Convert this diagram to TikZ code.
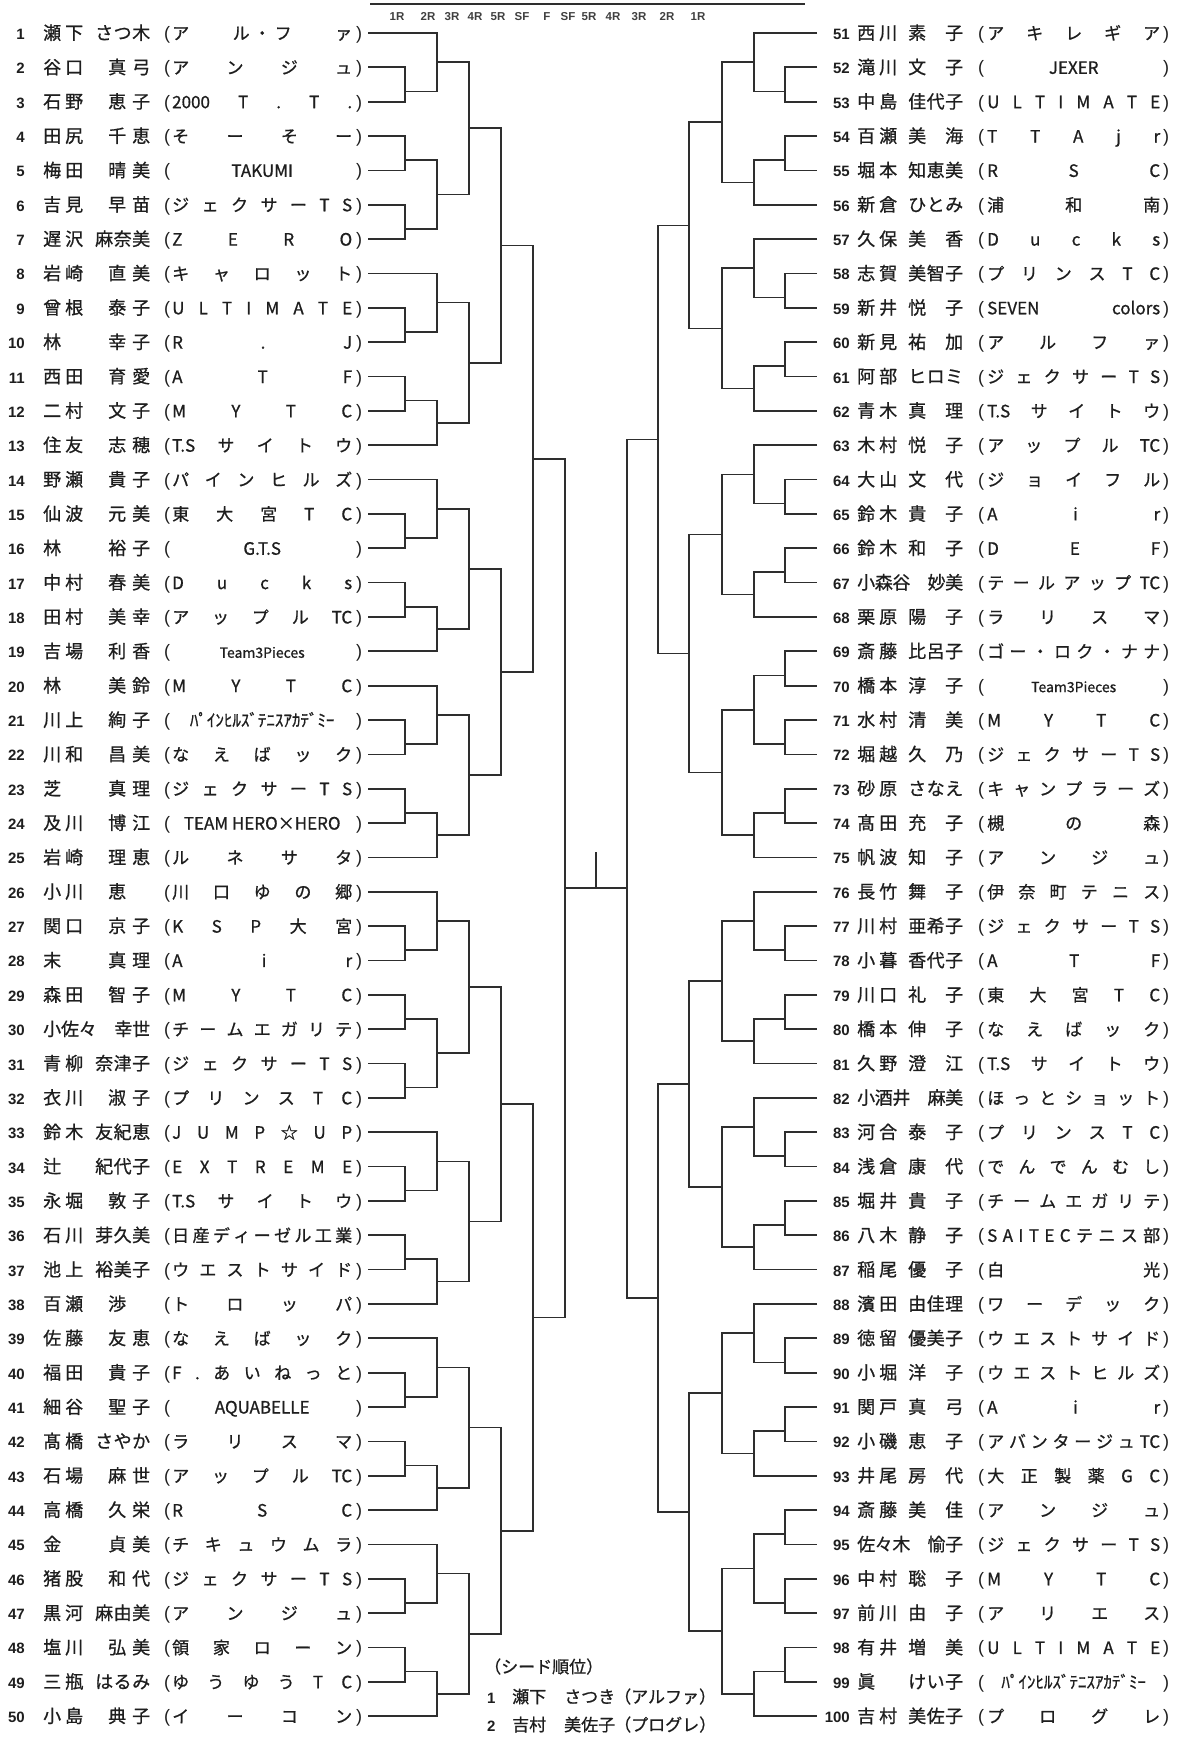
\documentclass[tikz,border=0pt]{standalone}
\usepackage{fontspec}
\setmainfont{Liberation Sans}
\newfontfamily\jp[FakeBold=0.8]{Noto Sans CJK JP}
\usetikzlibrary{calc}
\definecolor{ink}{HTML}{1E1E1E}
\definecolor{ln}{HTML}{2E2E2E}
\ExplSyntaxOn
\seq_new:N \l__rk_seq
\NewDocumentCommand \SPR { m m }
 {
  \seq_set_split:Nnn \l__rk_seq { | } { #2 }
  \makebox [ #1 ] [ s ] { \seq_use:Nn \l__rk_seq { \hspace { 0pt~plus~1fill~minus~1fill } } }
 }
\NewDocumentCommand \GivenL { m }
 {
  \seq_set_split:Nnn \l__rk_seq { | } { #1 }
  \int_compare:nNnTF { \seq_count:N \l__rk_seq } > { 2 }
   { \makebox [ 55pt ] [ s ] { \seq_use:Nn \l__rk_seq { \hspace { 0pt~plus~1fill~minus~1fill } } } }
   { \hspace*{13pt} \makebox [ 42pt ] [ s ] { \seq_use:Nn \l__rk_seq { \hspace { 0pt~plus~1fill~minus~1fill } } } }
 }
\ExplSyntaxOff
\newcommand\NM[2]{\makebox[52pt][l]{\SPR{40pt}{#1}}\GivenL{#2}}
\newcommand\NMR[2]{\makebox[51pt][l]{\SPR{40pt}{#1}}\SPR{55pt}{#2}}
\newcommand\TS[1]{\SPR{\tw}{#1}}
\newcommand\TC[1]{\makebox[\tw][c]{#1}}
\tikzset{
  br/.style={draw=ln, line width=1.7pt, line join=miter},
  num/.style={font=\fontsize{15}{15}\selectfont\bfseries, text=ink, inner sep=0pt, anchor=base east},
  tx/.style={font=\jp\fontsize{18}{18}\selectfont, text=ink, inner sep=0pt, anchor=base west},
  tmx/.style={font=\jp\fontsize{17}{17}\selectfont, text=ink, inner sep=0pt, anchor=base west},
  par/.style={font=\fontsize{18}{18}\selectfont, text=ink, inner sep=0pt, anchor=base},
  hd/.style={font=\fontsize{11.5}{12}\selectfont\bfseries, text=ink!85, inner sep=0pt, anchor=base},
  lg/.style={font=\jp\fontsize{17}{17}\selectfont, text=ink, inner sep=0pt, anchor=base west},
}
% left row
\newcommand\LR[3]{%
  \pgfmathsetmacro\yy{33+(#1-1)*34.35}%
  \pgfmathsetmacro\yb{\yy+6.5}%
  \def\tw{180pt}%
  \node[num] (n#1) at (25,\yb) {#1};
  \node[tx] (nm#1) at (43,\yb) {#2};
  \node[par] (lp#1) at (167,\yb) {(};
  \node[tmx] (tm#1) at (172,\yb) {#3};
  \node[par] (rp#1) at (359,\yb) {)};
  \coordinate (p#1) at (368,\yy);
}
% right row
\newcommand\RR[3]{%
  \pgfmathsetmacro\yy{33+(#1-51)*34.35}%
  \pgfmathsetmacro\yb{\yy+6.5}%
  \def\tw{173pt}%
  \node[num] (n#1) at (850,\yb) {#1};
  \node[tx] (nm#1) at (857,\yb) {#2};
  \node[par] (lp#1) at (981,\yb) {(};
  \node[tmx] (tm#1) at (987,\yb) {#3};
  \node[par] (rp#1) at (1166,\yb) {)};
  \coordinate (p#1) at (817,\yy);
}
% one match: round x coord, input A, input B, output name, fraction
\newcommand\M[5]{%
  \draw[br] (#2) -- (#2 -| #1) -- (#3 -| #1) -- (#3);
  \coordinate (#4) at ($(#2 -| #1)!#5!(#3 -| #1)$);
}
% (a,(b,c)) vs ((d,e),f)
\newcommand\GA[8]{%
  \M{#11}{p#4}{p#5}{#2x1}{.7}
  \M{#12}{p#3}{#2x1}{#2x2}{.5}
  \M{#11}{p#6}{p#7}{#2x3}{.7}
  \M{#12}{#2x3}{p#8}{#2x4}{.5}
  \M{#13}{#2x2}{#2x4}{#2}{.5}}
% (a,(b,c)) vs ((d,e),(f,g))
\newcommand\GB[9]{%
  \M{#11}{p#4}{p#5}{#2x1}{.7}
  \M{#12}{p#3}{#2x1}{#2x2}{.5}
  \M{#11}{p#6}{p#7}{#2x3}{.7}
  \M{#11}{p#8}{p#9}{#2x4}{.7}
  \M{#12}{#2x3}{#2x4}{#2x5}{.5}
  \M{#13}{#2x2}{#2x5}{#2}{.5}}
% ((a,b),(c,d)) vs ((e,f),g)
\newcommand\GC[9]{%
  \M{#11}{p#3}{p#4}{#2x1}{.7}
  \M{#11}{p#5}{p#6}{#2x2}{.7}
  \M{#12}{#2x1}{#2x2}{#2x3}{.5}
  \M{#11}{p#7}{p#8}{#2x4}{.7}
  \M{#12}{#2x4}{p#9}{#2x5}{.5}
  \M{#13}{#2x3}{#2x5}{#2}{.5}}
\begin{document}
\begin{tikzpicture}[x=1pt,y=-1pt]
\fill[white] (0,0) rectangle (1181,1742);
\useasboundingbox (0,0) rectangle (1181,1742);
\foreach \n/\v in {0/368,1/405,2/437,3/469,4/501,5/533,6/565} \coordinate (L\n) at (\v,0);
\foreach \n/\v in {0/817,1/785,2/754,3/722,4/689,5/658,6/627} \coordinate (R\n) at (\v,0);

% header
\draw[draw=ln, line width=1.8pt] (370,4) -- (805,4);
\foreach \t/\x [count=\k] in {1R/397,2R/428,3R/452,4R/475,5R/498,SF/522,F/547,SF/568,5R/589,4R/613,3R/639,2R/667,1R/698}
  \node[hd] (hd\k) at (\x,21) {\t};

% left entries
\LR{1}{\NM{瀬|下}{さ|つ|木}}{\TS{ア|ル\hspace{4pt}・\hspace{4pt}フ|ァ}}
\LR{2}{\NM{谷|口}{真|弓}}{\TS{ア|ン|ジ|ュ}}
\LR{3}{\NM{石|野}{恵|子}}{\TS{2000|T|.|T|.}}
\LR{4}{\NM{田|尻}{千|恵}}{\TS{そ|ー|そ|ー}}
\LR{5}{\NM{梅|田}{晴|美}}{\TC{TAKUMI}}
\LR{6}{\NM{吉|見}{早|苗}}{\TS{ジ|ェ|ク|サ|ー|T|S}}
\LR{7}{\NM{遅|沢}{麻|奈|美}}{\TS{Z|E|R|O}}
\LR{8}{\NM{岩|崎}{直|美}}{\TS{キ|ャ|ロ|ッ|ト}}
\LR{9}{\NM{曾|根}{泰|子}}{\TS{U|L|T|I|M|A|T|E}}
\LR{10}{\NM{林}{幸|子}}{\TS{R|.|J}}
\LR{11}{\NM{西|田}{育|愛}}{\TS{A|T|F}}
\LR{12}{\NM{二|村}{文|子}}{\TS{M|Y|T|C}}
\LR{13}{\NM{住|友}{志|穂}}{\TS{T.S|サ|イ|ト|ウ}}
\LR{14}{\NM{野|瀬}{貴|子}}{\TS{パ|イ|ン|ヒ|ル|ズ}}
\LR{15}{\NM{仙|波}{元|美}}{\TS{東|大|宮|T|C}}
\LR{16}{\NM{林}{裕|子}}{\TC{G.T.S}}
\LR{17}{\NM{中|村}{春|美}}{\TS{D|u|c|k|s}}
\LR{18}{\NM{田|村}{美|幸}}{\TS{ア|ッ|プ|ル|TC}}
\LR{19}{\NM{吉|場}{利|香}}{\TC{\fontsize{14}{14}\selectfont Team3Pieces}}
\LR{20}{\NM{林}{美|鈴}}{\TS{M|Y|T|C}}
\LR{21}{\NM{川|上}{絢|子}}{\TC{ﾊﾟｲﾝﾋﾙｽﾞﾃﾆｽｱｶﾃﾞﾐｰ}}
\LR{22}{\NM{川|和}{昌|美}}{\TS{な|え|ば|ッ|ク}}
\LR{23}{\NM{芝}{真|理}}{\TS{ジ|ェ|ク|サ|ー|T|S}}
\LR{24}{\NM{及|川}{博|江}}{\TC{TEAM HERO×HERO}}
\LR{25}{\NM{岩|崎}{理|恵}}{\TS{ル|ネ|サ|タ}}
\LR{26}{\NM{小|川}{恵}}{\TS{川|口|ゆ|の|郷}}
\LR{27}{\NM{関|口}{京|子}}{\TS{K|S|P|大|宮}}
\LR{28}{\NM{末}{真|理}}{\TS{A|i|r}}
\LR{29}{\NM{森|田}{智|子}}{\TS{M|Y|T|C}}
\LR{30}{\SPR{107pt}{小|佐|々|　|幸|世}}{\TS{チ|ー|ム|エ|ガ|リ|テ}}
\LR{31}{\NM{青|柳}{奈|津|子}}{\TS{ジ|ェ|ク|サ|ー|T|S}}
\LR{32}{\NM{衣|川}{淑|子}}{\TS{プ|リ|ン|ス|T|C}}
\LR{33}{\NM{鈴|木}{友|紀|恵}}{\TS{J|U|M|P|☆|U|P}}
\LR{34}{\NM{辻}{紀|代|子}}{\TS{E|X|T|R|E|M|E}}
\LR{35}{\NM{永|堀}{敦|子}}{\TS{T.S|サ|イ|ト|ウ}}
\LR{36}{\NM{石|川}{芽|久|美}}{\TS{日|産|デ|ィ|ー|ゼ|ル|工|業}}
\LR{37}{\NM{池|上}{裕|美|子}}{\TS{ウ|エ|ス|ト|サ|イ|ド}}
\LR{38}{\NM{百|瀬}{渉}}{\TS{ト|ロ|ッ|パ}}
\LR{39}{\NM{佐|藤}{友|恵}}{\TS{な|え|ば|ッ|ク}}
\LR{40}{\NM{福|田}{貴|子}}{\TS{F|.|あ|い|ね|っ|と}}
\LR{41}{\NM{細|谷}{聖|子}}{\TC{AQUABELLE}}
\LR{42}{\NM{髙|橋}{さ|や|か}}{\TS{ラ|リ|ス|マ}}
\LR{43}{\NM{石|場}{麻|世}}{\TS{ア|ッ|プ|ル|TC}}
\LR{44}{\NM{高|橋}{久|栄}}{\TS{R|S|C}}
\LR{45}{\NM{金}{貞|美}}{\TS{チ|キ|ュ|ウ|ム|ラ}}
\LR{46}{\NM{猪|股}{和|代}}{\TS{ジ|ェ|ク|サ|ー|T|S}}
\LR{47}{\NM{黒|河}{麻|由|美}}{\TS{ア|ン|ジ|ュ}}
\LR{48}{\NM{塩|川}{弘|美}}{\TS{領|家|ロ|ー|ン}}
\LR{49}{\NM{三|瓶}{は|る|み}}{\TS{ゆ|う|ゆ|う|T|C}}
\LR{50}{\NM{小|島}{典|子}}{\TS{イ|ー|コ|ン}}

% right entries
\RR{51}{\NMR{西|川}{素|子}}{\TS{ア|キ|レ|ギ|ア}}
\RR{52}{\NMR{滝|川}{文|子}}{\TC{JEXER}}
\RR{53}{\NMR{中|島}{佳|代|子}}{\TS{U|L|T|I|M|A|T|E}}
\RR{54}{\NMR{百|瀬}{美|海}}{\TS{T|T|A|j|r}}
\RR{55}{\NMR{堀|本}{知|恵|美}}{\TS{R|S|C}}
\RR{56}{\NMR{新|倉}{ひ|と|み}}{\TS{浦|和|南}}
\RR{57}{\NMR{久|保}{美|香}}{\TS{D|u|c|k|s}}
\RR{58}{\NMR{志|賀}{美|智|子}}{\TS{プ|リ|ン|ス|T|C}}
\RR{59}{\NMR{新|井}{悦|子}}{\TS{SEVEN|colors}}
\RR{60}{\NMR{新|見}{祐|加}}{\TS{ア|ル|フ|ァ}}
\RR{61}{\NMR{阿|部}{ヒ|ロ|ミ}}{\TS{ジ|ェ|ク|サ|ー|T|S}}
\RR{62}{\NMR{青|木}{真|理}}{\TS{T.S|サ|イ|ト|ウ}}
\RR{63}{\NMR{木|村}{悦|子}}{\TS{ア|ッ|プ|ル|TC}}
\RR{64}{\NMR{大|山}{文|代}}{\TS{ジ|ョ|イ|フ|ル}}
\RR{65}{\NMR{鈴|木}{貴|子}}{\TS{A|i|r}}
\RR{66}{\NMR{鈴|木}{和|子}}{\TS{D|E|F}}
\RR{67}{\SPR{106pt}{小|森|谷|　|妙|美}}{\TS{テ|ー|ル|ア|ッ|プ|TC}}
\RR{68}{\NMR{栗|原}{陽|子}}{\TS{ラ|リ|ス|マ}}
\RR{69}{\NMR{斎|藤}{比|呂|子}}{\TS{ゴ|ー|・|ロ|ク|・|ナ|ナ}}
\RR{70}{\NMR{橋|本}{淳|子}}{\TC{\fontsize{14}{14}\selectfont Team3Pieces}}
\RR{71}{\NMR{水|村}{清|美}}{\TS{M|Y|T|C}}
\RR{72}{\NMR{堀|越}{久|乃}}{\TS{ジ|ェ|ク|サ|ー|T|S}}
\RR{73}{\NMR{砂|原}{さ|な|え}}{\TS{キ|ャ|ン|プ|ラ|ー|ズ}}
\RR{74}{\NMR{髙|田}{充|子}}{\TS{槻|の|森}}
\RR{75}{\NMR{帆|波}{知|子}}{\TS{ア|ン|ジ|ュ}}
\RR{76}{\NMR{長|竹}{舞|子}}{\TS{伊|奈|町|テ|ニ|ス}}
\RR{77}{\NMR{川|村}{亜|希|子}}{\TS{ジ|ェ|ク|サ|ー|T|S}}
\RR{78}{\NMR{小|暮}{香|代|子}}{\TS{A|T|F}}
\RR{79}{\NMR{川|口}{礼|子}}{\TS{東|大|宮|T|C}}
\RR{80}{\NMR{橋|本}{伸|子}}{\TS{な|え|ば|ッ|ク}}
\RR{81}{\NMR{久|野}{澄|江}}{\TS{T.S|サ|イ|ト|ウ}}
\RR{82}{\SPR{106pt}{小|酒|井|　|麻|美}}{\TS{ほ|っ|と|シ|ョ|ッ|ト}}
\RR{83}{\NMR{河|合}{泰|子}}{\TS{プ|リ|ン|ス|T|C}}
\RR{84}{\NMR{浅|倉}{康|代}}{\TS{で|ん|で|ん|む|し}}
\RR{85}{\NMR{堀|井}{貴|子}}{\TS{チ|ー|ム|エ|ガ|リ|テ}}
\RR{86}{\NMR{八|木}{静|子}}{\TS{S|A|I|T|E|C|テ|ニ|ス|部}}
\RR{87}{\NMR{稲|尾}{優|子}}{\TS{白|光}}
\RR{88}{\NMR{濱|田}{由|佳|理}}{\TS{ワ|ー|デ|ッ|ク}}
\RR{89}{\NMR{徳|留}{優|美|子}}{\TS{ウ|エ|ス|ト|サ|イ|ド}}
\RR{90}{\NMR{小|堀}{洋|子}}{\TS{ウ|エ|ス|ト|ヒ|ル|ズ}}
\RR{91}{\NMR{関|戸}{真|弓}}{\TS{A|i|r}}
\RR{92}{\NMR{小|磯}{恵|子}}{\TS{ア|バ|ン|タ|ー|ジ|ュ|TC}}
\RR{93}{\NMR{井|尾}{房|代}}{\TS{大|正|製|薬|G|C}}
\RR{94}{\NMR{斎|藤}{美|佳}}{\TS{ア|ン|ジ|ュ}}
\RR{95}{\SPR{106pt}{佐|々|木|　|愉|子}}{\TS{ジ|ェ|ク|サ|ー|T|S}}
\RR{96}{\NMR{中|村}{聡|子}}{\TS{M|Y|T|C}}
\RR{97}{\NMR{前|川}{由|子}}{\TS{ア|リ|エ|ス}}
\RR{98}{\NMR{有|井}{増|美}}{\TS{U|L|T|I|M|A|T|E}}
\RR{99}{\NMR{眞}{け|い|子}}{\TC{ﾊﾟｲﾝﾋﾙｽﾞﾃﾆｽｱｶﾃﾞﾐｰ}}
\RR{100}{\NMR{吉|村}{美|佐|子}}{\TS{プ|ロ|グ|レ}}

% left bracket
\GB{L}{ga}{1}{2}{3}{4}{5}{6}{7}
\GA{L}{gb}{8}{9}{10}{11}{12}{13}
\M{L4}{ga}{gb}{ha}{.5}
\GA{L}{gc}{14}{15}{16}{17}{18}{19}
\GA{L}{gd}{20}{21}{22}{23}{24}{25}
\M{L4}{gc}{gd}{hb}{.5}
\M{L5}{ha}{hb}{lt}{.5}
\GB{L}{ge}{26}{27}{28}{29}{30}{31}{32}
\GA{L}{gf}{33}{34}{35}{36}{37}{38}
\M{L4}{ge}{gf}{hc}{.5}
\GA{L}{gg}{39}{40}{41}{42}{43}{44}
\GA{L}{gh}{45}{46}{47}{48}{49}{50}
\M{L4}{gg}{gh}{hd}{.5}
\M{L5}{hc}{hd}{lbt}{.5}
\M{L6}{lt}{lbt}{lf}{.5}

% right bracket
\GA{R}{ra}{51}{52}{53}{54}{55}{56}
\GA{R}{rb}{57}{58}{59}{60}{61}{62}
\M{R4}{ra}{rb}{sa}{.5}
\GA{R}{rc}{63}{64}{65}{66}{67}{68}
\GC{R}{rd}{69}{70}{71}{72}{73}{74}{75}
\M{R4}{rc}{rd}{sb}{.5}
\M{R5}{sa}{sb}{rt}{.5}
\GA{R}{re}{76}{77}{78}{79}{80}{81}
\GA{R}{rg}{82}{83}{84}{85}{86}{87}
\M{R4}{re}{rg}{sc}{.5}
\GA{R}{rh}{88}{89}{90}{91}{92}{93}
\GC{R}{ri}{94}{95}{96}{97}{98}{99}{100}
\M{R4}{rh}{ri}{sd}{.5}
\M{R5}{sc}{sd}{rbt}{.5}
\M{R6}{rt}{rbt}{rfin}{.5}

% final
\coordinate (fr) at (lf -| R6);
\draw[br] (lf) -- (fr);
\coordinate (fc) at ($(lf)!.5!(fr)$);
\coordinate (ftop) at ($(fc)+(0,-36)$);
\draw[br] (fc) -- (ftop);

% legend
\node[lg] (seed) at (484,1673) {（シード順位）};
\node[num, anchor=base west] (s1n) at (487,1703) {1};
\node[lg] (s1a) at (512,1703) {瀬下};
\node[lg] (s1b) at (564,1703) {さつき};
\node[lg] (s1c) at (614,1703) {（アルファ）};
\node[num, anchor=base west] (s2n) at (487,1731) {2};
\node[lg] (s2a) at (512,1731) {吉村};
\node[lg] (s2b) at (564,1731) {美佐子};
\node[lg] (s2c) at (614,1731) {（プログレ）};
\end{tikzpicture}
\end{document}
